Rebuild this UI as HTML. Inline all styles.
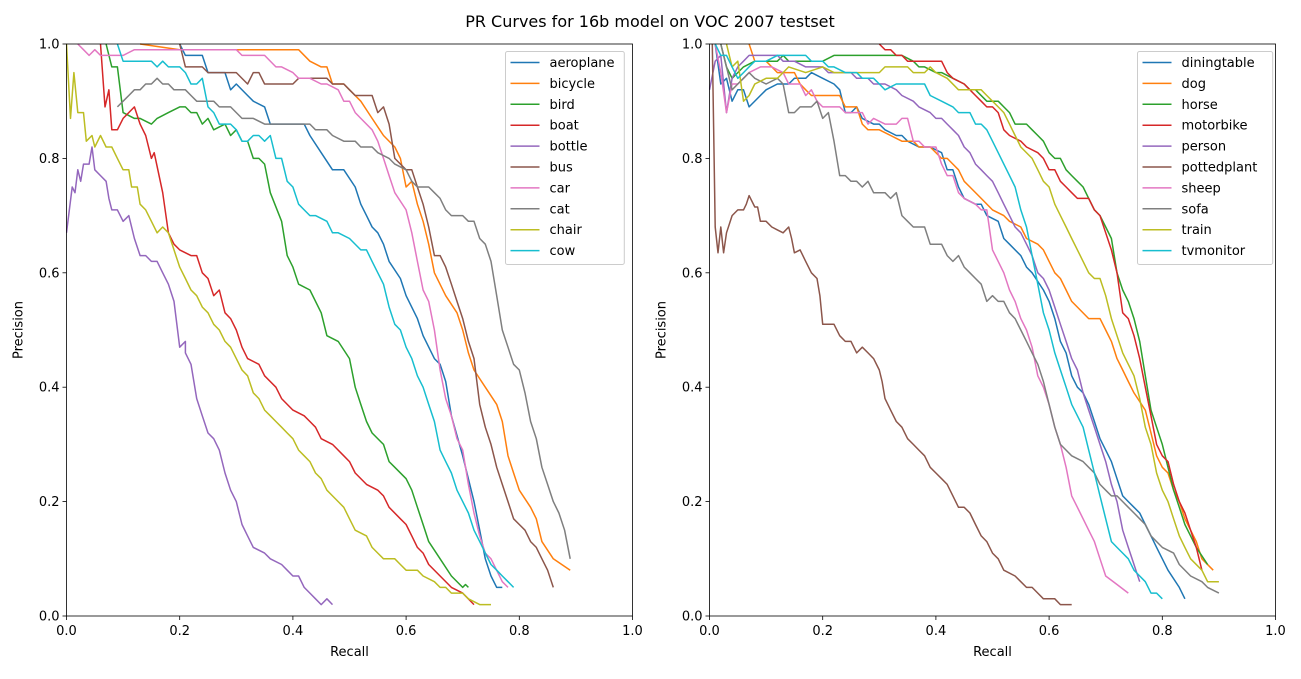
<!DOCTYPE html>
<html><head><meta charset="utf-8"><style>
body{margin:0;background:#fff;}
svg text{font-family:"DejaVu Sans","Liberation Sans",sans-serif;fill:#000;}
</style></head><body>
<svg id="fig" width="1301" height="674" xmlns="http://www.w3.org/2000/svg">
<rect width="1301" height="674" fill="#fff"/>
<text x="650" y="27" font-size="16" text-anchor="middle">PR Curves for 16b model on VOC 2007 testset</text>
<defs>
<clipPath id="clipL"><rect x="66" y="43" width="567" height="574"/></clipPath>
<clipPath id="clipR"><rect x="709" y="43" width="567" height="574"/></clipPath>
</defs>
</svg>
<script>
const colors = ["#1f77b4","#ff7f0e","#2ca02c","#d62728","#9467bd","#8c564b","#e377c2","#7f7f7f","#bcbd22","#17becf"];
const leftNames = ["aeroplane","bicycle","bird","boat","bottle","bus","car","cat","chair","cow"];
const rightNames = ["diningtable","dog","horse","motorbike","person","pottedplant","sheep","sofa","train","tvmonitor"];
const tickLabels = ["0.0","0.2","0.4","0.6","0.8","1.0"];
const tickValues = [0,0.2,0.4,0.6,0.8,1.0];

const aeroplane = [[0.2,1.0],[0.21,0.98],[0.24,0.98],[0.25,0.95],[0.28,0.95],[0.29,0.92],[0.3,0.93],[0.32,0.91],[0.33,0.9],[0.35,0.89],[0.36,0.86],[0.42,0.86],[0.43,0.84],[0.45,0.81],[0.47,0.78],[0.49,0.78],[0.51,0.75],[0.52,0.72],[0.53,0.7],[0.54,0.68],[0.55,0.67],[0.56,0.65],[0.57,0.62],[0.59,0.59],[0.6,0.56],[0.62,0.52],[0.63,0.49],[0.65,0.45],[0.66,0.44],[0.67,0.41],[0.68,0.35],[0.7,0.28],[0.72,0.2],[0.73,0.15],[0.74,0.1],[0.75,0.07],[0.76,0.05],[0.77,0.05]];
const bicycle = [[0.13,1.0],[0.2,0.99],[0.3,0.99],[0.41,0.99],[0.43,0.97],[0.45,0.96],[0.46,0.96],[0.47,0.93],[0.49,0.93],[0.5,0.92],[0.52,0.9],[0.54,0.87],[0.56,0.84],[0.58,0.82],[0.59,0.8],[0.6,0.75],[0.61,0.76],[0.62,0.72],[0.63,0.69],[0.64,0.65],[0.65,0.6],[0.67,0.56],[0.69,0.53],[0.7,0.5],[0.71,0.46],[0.72,0.43],[0.74,0.4],[0.76,0.37],[0.77,0.34],[0.78,0.28],[0.79,0.25],[0.8,0.22],[0.82,0.19],[0.83,0.17],[0.84,0.13],[0.86,0.1],[0.89,0.08]];
const bird = [[0.07,1.0],[0.08,0.96],[0.09,0.96],[0.1,0.88],[0.12,0.87],[0.13,0.87],[0.15,0.86],[0.16,0.87],[0.18,0.88],[0.2,0.89],[0.21,0.89],[0.22,0.88],[0.23,0.88],[0.24,0.86],[0.25,0.87],[0.26,0.85],[0.28,0.86],[0.29,0.84],[0.3,0.85],[0.31,0.83],[0.32,0.83],[0.33,0.8],[0.34,0.8],[0.35,0.79],[0.36,0.74],[0.38,0.69],[0.39,0.63],[0.4,0.61],[0.41,0.58],[0.43,0.57],[0.45,0.53],[0.46,0.49],[0.48,0.48],[0.5,0.45],[0.51,0.4],[0.52,0.37],[0.53,0.34],[0.54,0.32],[0.56,0.3],[0.57,0.27],[0.58,0.26],[0.6,0.24],[0.61,0.22],[0.62,0.19],[0.63,0.16],[0.64,0.13],[0.66,0.1],[0.68,0.07],[0.7,0.05],[0.705,0.055],[0.71,0.05]];
const boat = [[0.06,1.0],[0.068,0.89],[0.075,0.92],[0.08,0.85],[0.09,0.85],[0.1,0.87],[0.12,0.89],[0.13,0.86],[0.14,0.84],[0.15,0.8],[0.155,0.81],[0.17,0.74],[0.18,0.67],[0.19,0.65],[0.2,0.64],[0.22,0.63],[0.23,0.63],[0.24,0.6],[0.25,0.59],[0.26,0.56],[0.27,0.57],[0.28,0.53],[0.29,0.52],[0.3,0.5],[0.31,0.47],[0.32,0.45],[0.34,0.44],[0.35,0.42],[0.37,0.4],[0.38,0.38],[0.4,0.36],[0.42,0.35],[0.43,0.34],[0.44,0.33],[0.45,0.31],[0.47,0.3],[0.49,0.28],[0.5,0.27],[0.51,0.25],[0.53,0.23],[0.55,0.22],[0.56,0.21],[0.57,0.19],[0.59,0.17],[0.6,0.16],[0.61,0.14],[0.62,0.12],[0.63,0.11],[0.64,0.09],[0.66,0.07],[0.68,0.05],[0.7,0.04],[0.72,0.02]];
const bottle = [[0.0,0.67],[0.01,0.75],[0.015,0.74],[0.02,0.78],[0.025,0.76],[0.03,0.79],[0.04,0.79],[0.045,0.82],[0.05,0.78],[0.06,0.77],[0.07,0.76],[0.075,0.73],[0.08,0.71],[0.09,0.71],[0.1,0.69],[0.11,0.7],[0.12,0.66],[0.13,0.63],[0.14,0.63],[0.15,0.62],[0.16,0.62],[0.17,0.6],[0.18,0.58],[0.19,0.55],[0.2,0.47],[0.21,0.48],[0.21,0.46],[0.22,0.44],[0.23,0.38],[0.24,0.35],[0.25,0.32],[0.26,0.31],[0.27,0.29],[0.28,0.25],[0.29,0.22],[0.3,0.2],[0.31,0.16],[0.32,0.14],[0.33,0.12],[0.35,0.11],[0.36,0.1],[0.38,0.09],[0.39,0.08],[0.4,0.07],[0.41,0.07],[0.42,0.05],[0.43,0.04],[0.44,0.03],[0.45,0.02],[0.46,0.03],[0.47,0.02]];
const bus = [[0.2,1.0],[0.21,0.96],[0.24,0.96],[0.25,0.95],[0.3,0.95],[0.32,0.93],[0.33,0.95],[0.34,0.95],[0.35,0.93],[0.4,0.93],[0.41,0.94],[0.46,0.94],[0.47,0.93],[0.49,0.93],[0.5,0.92],[0.51,0.91],[0.54,0.91],[0.55,0.88],[0.56,0.89],[0.57,0.86],[0.58,0.8],[0.6,0.78],[0.61,0.78],[0.62,0.75],[0.63,0.72],[0.64,0.68],[0.65,0.63],[0.66,0.63],[0.67,0.61],[0.68,0.58],[0.69,0.55],[0.7,0.52],[0.71,0.48],[0.72,0.45],[0.73,0.37],[0.74,0.33],[0.75,0.3],[0.76,0.26],[0.77,0.23],[0.78,0.2],[0.79,0.17],[0.8,0.16],[0.81,0.15],[0.82,0.13],[0.83,0.12],[0.84,0.1],[0.85,0.08],[0.86,0.05]];
const car = [[0.02,1.0],[0.03,0.99],[0.04,0.98],[0.05,0.99],[0.06,0.98],[0.1,0.98],[0.12,0.99],[0.2,0.99],[0.3,0.99],[0.31,0.98],[0.35,0.98],[0.37,0.96],[0.38,0.96],[0.4,0.95],[0.41,0.94],[0.43,0.94],[0.45,0.93],[0.46,0.93],[0.48,0.92],[0.49,0.9],[0.5,0.9],[0.51,0.88],[0.52,0.87],[0.54,0.85],[0.55,0.83],[0.56,0.8],[0.57,0.77],[0.58,0.74],[0.6,0.71],[0.61,0.67],[0.62,0.62],[0.63,0.57],[0.64,0.55],[0.65,0.5],[0.66,0.43],[0.67,0.38],[0.68,0.35],[0.69,0.31],[0.7,0.29],[0.71,0.23],[0.72,0.18],[0.73,0.14],[0.74,0.11],[0.75,0.1],[0.77,0.06],[0.78,0.05]];
const cat = [[0.09,0.89],[0.1,0.9],[0.11,0.91],[0.12,0.92],[0.13,0.92],[0.14,0.93],[0.15,0.93],[0.16,0.94],[0.17,0.93],[0.18,0.93],[0.19,0.92],[0.21,0.92],[0.22,0.91],[0.23,0.9],[0.26,0.9],[0.27,0.89],[0.29,0.89],[0.3,0.88],[0.31,0.87],[0.33,0.87],[0.35,0.86],[0.43,0.86],[0.44,0.85],[0.46,0.85],[0.47,0.84],[0.49,0.83],[0.51,0.83],[0.52,0.82],[0.54,0.82],[0.55,0.81],[0.57,0.8],[0.58,0.79],[0.6,0.78],[0.61,0.76],[0.62,0.75],[0.64,0.75],[0.65,0.74],[0.66,0.73],[0.67,0.71],[0.68,0.7],[0.7,0.7],[0.71,0.69],[0.72,0.69],[0.73,0.66],[0.74,0.65],[0.75,0.62],[0.76,0.56],[0.77,0.5],[0.78,0.47],[0.79,0.44],[0.8,0.43],[0.81,0.39],[0.82,0.34],[0.83,0.31],[0.84,0.26],[0.85,0.23],[0.86,0.2],[0.87,0.18],[0.88,0.15],[0.89,0.1]];
const chair = [[0.0,1.0],[0.007,0.87],[0.013,0.95],[0.02,0.88],[0.03,0.88],[0.035,0.83],[0.045,0.84],[0.05,0.82],[0.06,0.84],[0.07,0.82],[0.08,0.82],[0.09,0.8],[0.1,0.78],[0.11,0.78],[0.115,0.75],[0.125,0.75],[0.13,0.72],[0.14,0.71],[0.15,0.69],[0.16,0.67],[0.17,0.68],[0.18,0.67],[0.19,0.64],[0.2,0.61],[0.21,0.59],[0.22,0.57],[0.23,0.56],[0.24,0.54],[0.25,0.53],[0.26,0.51],[0.27,0.5],[0.28,0.48],[0.29,0.47],[0.3,0.45],[0.31,0.43],[0.32,0.42],[0.33,0.39],[0.34,0.38],[0.35,0.36],[0.36,0.35],[0.37,0.34],[0.38,0.33],[0.39,0.32],[0.4,0.31],[0.41,0.29],[0.42,0.28],[0.43,0.27],[0.44,0.25],[0.45,0.24],[0.46,0.22],[0.47,0.21],[0.48,0.2],[0.49,0.19],[0.5,0.17],[0.51,0.15],[0.53,0.14],[0.54,0.12],[0.55,0.11],[0.56,0.1],[0.58,0.1],[0.59,0.09],[0.6,0.08],[0.62,0.08],[0.63,0.07],[0.65,0.06],[0.66,0.05],[0.67,0.05],[0.68,0.04],[0.7,0.04],[0.71,0.03],[0.73,0.02],[0.75,0.02]];
const cow = [[0.09,1.0],[0.1,0.97],[0.15,0.97],[0.16,0.96],[0.17,0.97],[0.18,0.96],[0.2,0.96],[0.21,0.95],[0.22,0.93],[0.23,0.93],[0.24,0.94],[0.25,0.89],[0.26,0.88],[0.27,0.86],[0.29,0.86],[0.3,0.85],[0.31,0.83],[0.32,0.83],[0.33,0.84],[0.34,0.84],[0.35,0.83],[0.36,0.84],[0.37,0.8],[0.38,0.8],[0.39,0.76],[0.4,0.75],[0.41,0.72],[0.42,0.71],[0.43,0.7],[0.44,0.7],[0.46,0.69],[0.47,0.67],[0.48,0.67],[0.5,0.66],[0.52,0.64],[0.53,0.64],[0.54,0.62],[0.55,0.6],[0.56,0.58],[0.57,0.54],[0.58,0.51],[0.59,0.5],[0.6,0.47],[0.61,0.45],[0.62,0.42],[0.63,0.4],[0.64,0.37],[0.65,0.34],[0.66,0.29],[0.67,0.27],[0.68,0.25],[0.69,0.22],[0.7,0.2],[0.71,0.18],[0.72,0.15],[0.73,0.13],[0.74,0.11],[0.75,0.09],[0.76,0.08],[0.77,0.07],[0.78,0.06],[0.79,0.05]];

const diningtable = [[0.01,1.0],[0.02,0.93],[0.03,0.94],[0.04,0.9],[0.05,0.92],[0.06,0.92],[0.07,0.89],[0.09,0.91],[0.1,0.92],[0.12,0.93],[0.14,0.93],[0.15,0.94],[0.17,0.94],[0.18,0.95],[0.2,0.94],[0.22,0.93],[0.23,0.92],[0.24,0.88],[0.25,0.88],[0.26,0.89],[0.27,0.87],[0.29,0.86],[0.3,0.86],[0.31,0.85],[0.33,0.84],[0.34,0.84],[0.35,0.83],[0.37,0.82],[0.39,0.82],[0.41,0.81],[0.42,0.78],[0.43,0.78],[0.44,0.75],[0.45,0.73],[0.47,0.72],[0.48,0.72],[0.49,0.7],[0.51,0.69],[0.52,0.66],[0.53,0.65],[0.55,0.63],[0.56,0.61],[0.57,0.6],[0.59,0.57],[0.6,0.55],[0.61,0.52],[0.62,0.48],[0.63,0.46],[0.64,0.42],[0.65,0.4],[0.66,0.39],[0.67,0.37],[0.68,0.34],[0.69,0.31],[0.7,0.29],[0.71,0.27],[0.72,0.24],[0.73,0.21],[0.74,0.2],[0.75,0.19],[0.76,0.18],[0.77,0.16],[0.78,0.14],[0.79,0.12],[0.8,0.1],[0.81,0.08],[0.83,0.05],[0.84,0.03]];
const dog = [[0.07,1.0],[0.08,0.97],[0.1,0.97],[0.11,0.96],[0.12,0.95],[0.15,0.95],[0.16,0.93],[0.17,0.92],[0.18,0.91],[0.2,0.91],[0.23,0.91],[0.24,0.89],[0.26,0.89],[0.27,0.86],[0.28,0.85],[0.3,0.85],[0.32,0.84],[0.34,0.83],[0.36,0.83],[0.37,0.82],[0.39,0.82],[0.41,0.8],[0.42,0.8],[0.43,0.79],[0.44,0.78],[0.45,0.76],[0.46,0.75],[0.48,0.73],[0.5,0.71],[0.52,0.7],[0.53,0.69],[0.55,0.68],[0.56,0.66],[0.58,0.65],[0.59,0.64],[0.6,0.62],[0.61,0.6],[0.62,0.59],[0.63,0.57],[0.64,0.55],[0.65,0.54],[0.67,0.52],[0.69,0.52],[0.7,0.5],[0.71,0.48],[0.72,0.45],[0.73,0.43],[0.74,0.41],[0.75,0.39],[0.77,0.36],[0.78,0.32],[0.79,0.28],[0.8,0.26],[0.81,0.25],[0.82,0.22],[0.83,0.2],[0.84,0.17],[0.85,0.15],[0.86,0.13],[0.87,0.1],[0.89,0.08]];
const horse = [[0.02,1.0],[0.03,0.96],[0.04,0.94],[0.05,0.95],[0.06,0.96],[0.08,0.97],[0.12,0.97],[0.13,0.98],[0.14,0.97],[0.2,0.97],[0.22,0.98],[0.34,0.98],[0.36,0.97],[0.37,0.96],[0.38,0.96],[0.4,0.95],[0.41,0.95],[0.43,0.94],[0.45,0.93],[0.46,0.92],[0.47,0.92],[0.49,0.9],[0.51,0.9],[0.52,0.89],[0.53,0.88],[0.54,0.86],[0.56,0.86],[0.57,0.85],[0.58,0.84],[0.59,0.83],[0.6,0.81],[0.61,0.8],[0.62,0.8],[0.63,0.78],[0.64,0.77],[0.65,0.76],[0.66,0.75],[0.67,0.73],[0.68,0.71],[0.69,0.7],[0.7,0.68],[0.71,0.66],[0.72,0.6],[0.73,0.57],[0.74,0.55],[0.75,0.52],[0.76,0.48],[0.77,0.42],[0.78,0.36],[0.79,0.33],[0.8,0.3],[0.81,0.26],[0.82,0.22],[0.83,0.19],[0.84,0.16],[0.85,0.14],[0.86,0.12],[0.88,0.09]];
const motorbike = [[0.3,1.0],[0.31,0.99],[0.32,0.99],[0.33,0.98],[0.34,0.98],[0.35,0.97],[0.41,0.97],[0.42,0.95],[0.43,0.94],[0.45,0.93],[0.46,0.92],[0.47,0.91],[0.48,0.9],[0.49,0.89],[0.5,0.89],[0.51,0.88],[0.52,0.85],[0.53,0.84],[0.55,0.83],[0.56,0.82],[0.58,0.81],[0.59,0.8],[0.6,0.78],[0.61,0.78],[0.62,0.76],[0.63,0.75],[0.64,0.74],[0.65,0.73],[0.66,0.73],[0.67,0.73],[0.68,0.71],[0.69,0.7],[0.7,0.67],[0.71,0.64],[0.72,0.6],[0.73,0.53],[0.74,0.52],[0.75,0.49],[0.76,0.45],[0.77,0.4],[0.78,0.35],[0.79,0.3],[0.8,0.28],[0.81,0.27],[0.82,0.23],[0.83,0.2],[0.84,0.18],[0.85,0.15],[0.86,0.12],[0.87,0.08]];
const person = [[0.0,0.92],[0.01,0.97],[0.02,0.98],[0.03,0.88],[0.04,0.94],[0.05,0.96],[0.06,0.97],[0.07,0.98],[0.12,0.98],[0.13,0.97],[0.15,0.97],[0.17,0.96],[0.2,0.96],[0.21,0.95],[0.25,0.95],[0.26,0.94],[0.28,0.94],[0.29,0.93],[0.31,0.93],[0.33,0.92],[0.34,0.91],[0.36,0.9],[0.37,0.89],[0.39,0.88],[0.4,0.87],[0.41,0.87],[0.42,0.86],[0.43,0.85],[0.44,0.84],[0.45,0.82],[0.46,0.81],[0.47,0.79],[0.48,0.78],[0.49,0.77],[0.5,0.76],[0.51,0.74],[0.52,0.72],[0.53,0.7],[0.54,0.68],[0.55,0.67],[0.56,0.65],[0.57,0.63],[0.58,0.6],[0.59,0.59],[0.6,0.57],[0.61,0.54],[0.62,0.51],[0.63,0.48],[0.64,0.45],[0.65,0.43],[0.66,0.39],[0.67,0.36],[0.68,0.33],[0.69,0.3],[0.7,0.27],[0.71,0.23],[0.72,0.2],[0.73,0.15],[0.74,0.12],[0.75,0.09],[0.76,0.06]];
const pottedplant = [[0.005,1.0],[0.01,0.68],[0.015,0.635],[0.02,0.68],[0.025,0.635],[0.03,0.67],[0.04,0.7],[0.05,0.71],[0.06,0.71],[0.065,0.72],[0.07,0.735],[0.08,0.715],[0.085,0.715],[0.09,0.69],[0.1,0.69],[0.11,0.68],[0.12,0.675],[0.13,0.67],[0.14,0.68],[0.145,0.66],[0.15,0.635],[0.16,0.64],[0.17,0.62],[0.18,0.6],[0.19,0.59],[0.195,0.56],[0.2,0.51],[0.22,0.51],[0.23,0.49],[0.24,0.48],[0.25,0.48],[0.26,0.46],[0.27,0.47],[0.28,0.46],[0.29,0.45],[0.3,0.43],[0.305,0.41],[0.31,0.38],[0.32,0.36],[0.33,0.34],[0.34,0.33],[0.35,0.31],[0.36,0.3],[0.37,0.29],[0.38,0.28],[0.39,0.26],[0.4,0.25],[0.41,0.24],[0.42,0.23],[0.43,0.21],[0.44,0.19],[0.45,0.19],[0.46,0.18],[0.47,0.16],[0.48,0.14],[0.49,0.13],[0.5,0.11],[0.51,0.1],[0.52,0.08],[0.54,0.07],[0.55,0.06],[0.56,0.05],[0.57,0.05],[0.58,0.04],[0.59,0.03],[0.6,0.03],[0.61,0.03],[0.62,0.02],[0.64,0.02]];
const sheep = [[0.01,1.0],[0.02,0.95],[0.03,0.88],[0.04,0.93],[0.05,0.93],[0.06,0.94],[0.07,0.95],[0.09,0.96],[0.11,0.96],[0.13,0.95],[0.14,0.93],[0.16,0.93],[0.17,0.91],[0.18,0.92],[0.19,0.9],[0.2,0.89],[0.22,0.89],[0.23,0.89],[0.24,0.88],[0.26,0.88],[0.27,0.88],[0.28,0.86],[0.29,0.87],[0.31,0.86],[0.32,0.86],[0.33,0.86],[0.34,0.87],[0.35,0.87],[0.36,0.83],[0.37,0.83],[0.38,0.82],[0.4,0.82],[0.41,0.79],[0.42,0.77],[0.43,0.77],[0.44,0.74],[0.45,0.73],[0.47,0.72],[0.48,0.71],[0.49,0.71],[0.5,0.64],[0.51,0.62],[0.52,0.6],[0.53,0.57],[0.54,0.55],[0.55,0.52],[0.56,0.5],[0.57,0.47],[0.58,0.42],[0.59,0.4],[0.6,0.37],[0.61,0.33],[0.62,0.3],[0.63,0.26],[0.64,0.21],[0.65,0.19],[0.66,0.17],[0.67,0.15],[0.68,0.13],[0.69,0.1],[0.7,0.07],[0.72,0.055],[0.74,0.04]];
const sofa = [[0.02,1.0],[0.03,0.96],[0.04,0.92],[0.05,0.93],[0.06,0.94],[0.07,0.95],[0.08,0.94],[0.1,0.93],[0.12,0.94],[0.13,0.93],[0.14,0.88],[0.15,0.88],[0.16,0.89],[0.18,0.89],[0.19,0.9],[0.2,0.87],[0.21,0.88],[0.22,0.83],[0.23,0.77],[0.24,0.77],[0.25,0.76],[0.26,0.76],[0.27,0.75],[0.28,0.76],[0.29,0.74],[0.31,0.74],[0.32,0.73],[0.33,0.74],[0.34,0.7],[0.35,0.69],[0.36,0.68],[0.38,0.68],[0.39,0.65],[0.41,0.65],[0.42,0.63],[0.43,0.62],[0.44,0.63],[0.45,0.61],[0.46,0.6],[0.47,0.59],[0.48,0.58],[0.49,0.55],[0.5,0.56],[0.51,0.55],[0.52,0.55],[0.53,0.53],[0.54,0.52],[0.55,0.5],[0.56,0.48],[0.57,0.46],[0.58,0.44],[0.59,0.41],[0.6,0.37],[0.61,0.33],[0.62,0.3],[0.63,0.29],[0.64,0.28],[0.66,0.27],[0.67,0.26],[0.68,0.25],[0.69,0.23],[0.7,0.22],[0.71,0.21],[0.72,0.21],[0.73,0.2],[0.74,0.19],[0.75,0.18],[0.76,0.17],[0.77,0.16],[0.78,0.14],[0.79,0.13],[0.8,0.12],[0.82,0.11],[0.83,0.09],[0.85,0.07],[0.87,0.06],[0.88,0.05],[0.9,0.04]];
const train = [[0.03,1.0],[0.04,0.96],[0.05,0.97],[0.06,0.9],[0.07,0.91],[0.08,0.93],[0.1,0.94],[0.12,0.94],[0.13,0.95],[0.14,0.96],[0.17,0.95],[0.2,0.96],[0.22,0.95],[0.3,0.95],[0.31,0.96],[0.35,0.96],[0.36,0.95],[0.38,0.95],[0.39,0.96],[0.4,0.95],[0.42,0.94],[0.44,0.92],[0.45,0.92],[0.47,0.92],[0.48,0.92],[0.49,0.91],[0.5,0.9],[0.51,0.89],[0.52,0.88],[0.53,0.86],[0.54,0.84],[0.55,0.82],[0.57,0.8],[0.58,0.78],[0.59,0.76],[0.6,0.75],[0.61,0.72],[0.62,0.7],[0.63,0.68],[0.64,0.66],[0.65,0.64],[0.66,0.62],[0.67,0.6],[0.68,0.59],[0.69,0.59],[0.7,0.56],[0.71,0.52],[0.72,0.49],[0.73,0.46],[0.74,0.44],[0.75,0.42],[0.76,0.38],[0.77,0.33],[0.78,0.3],[0.79,0.25],[0.8,0.22],[0.81,0.2],[0.82,0.17],[0.83,0.14],[0.84,0.12],[0.85,0.1],[0.87,0.08],[0.88,0.06],[0.9,0.06]];
const tvmonitor = [[0.01,1.0],[0.02,0.98],[0.03,0.98],[0.04,0.96],[0.05,0.94],[0.06,0.95],[0.07,0.96],[0.08,0.97],[0.1,0.97],[0.12,0.98],[0.17,0.98],[0.18,0.97],[0.2,0.97],[0.21,0.96],[0.22,0.96],[0.24,0.95],[0.26,0.95],[0.27,0.94],[0.29,0.94],[0.3,0.93],[0.31,0.92],[0.33,0.93],[0.38,0.93],[0.39,0.91],[0.41,0.9],[0.43,0.89],[0.44,0.88],[0.46,0.88],[0.47,0.86],[0.48,0.86],[0.49,0.85],[0.5,0.83],[0.51,0.81],[0.52,0.79],[0.53,0.77],[0.54,0.75],[0.55,0.71],[0.56,0.68],[0.57,0.63],[0.58,0.58],[0.59,0.53],[0.6,0.5],[0.61,0.46],[0.62,0.43],[0.63,0.4],[0.64,0.37],[0.65,0.35],[0.66,0.33],[0.67,0.29],[0.68,0.25],[0.69,0.21],[0.7,0.17],[0.71,0.13],[0.72,0.12],[0.73,0.11],[0.74,0.1],[0.75,0.08],[0.76,0.07],[0.77,0.06],[0.78,0.04],[0.79,0.04],[0.8,0.03]];

const leftSeries = [aeroplane,bicycle,bird,boat,bottle,bus,car,cat,chair,cow];
const rightSeries = [diningtable,dog,horse,motorbike,person,pottedplant,sheep,sofa,train,tvmonitor];

const NS = "http://www.w3.org/2000/svg";
const svg = document.getElementById("fig");
const axTop = 44, axBottom = 616, axW = 566;
function mk(tag, attrs, parent){ const e=document.createElementNS(NS,tag); for(const k in attrs) e.setAttribute(k,attrs[k]); (parent||svg).appendChild(e); return e; }

function drawPanel(x0, names, series, clipId, key, legendX){
  const xs = v => x0 + v*axW;
  const ys = v => axBottom - v*(axBottom-axTop);
  const g = mk("g",{});
  
  
  // ticks
  tickValues.forEach((v,i)=>{
    mk("line",{x1:xs(v),x2:xs(v),y1:axBottom,y2:axBottom+4,stroke:"#000","stroke-width":0.8},g);
    const tx = mk("text",{x:xs(v),y:axBottom+19,"font-size":13,"text-anchor":"middle"},g);
    tx.textContent = tickLabels[i];
    
    
    mk("line",{x1:x0-4,x2:x0,y1:ys(v),y2:ys(v),stroke:"#000","stroke-width":0.8},g);
    const ty = mk("text",{x:x0-7,y:ys(v)+4.5,"font-size":13,"text-anchor":"end"},g);
    ty.textContent = tickLabels[i];
    
    
  });
  const xl = mk("text",{x:x0+axW/2,y:656,"font-size":13,"text-anchor":"middle"},g);
  xl.textContent="Recall";
  
  
  const yl = mk("text",{x:0,y:0,"font-size":13,"text-anchor":"middle",transform:`translate(${x0-44},${(axTop+axBottom)/2}) rotate(-90)`},g);
  yl.textContent="Precision";
  
  
  // curves
  const cg = mk("g",{"clip-path":`url(#${clipId})`},g);
  series.forEach((pts,i)=>{
    const d = pts.map((p,j)=>(j?"L":"M")+xs(p[0]).toFixed(1)+","+ys(p[1]).toFixed(1)).join("");
    const path = mk("path",{d:d,fill:"none",stroke:colors[i],"stroke-width":1.5,"stroke-linejoin":"round"},cg);
    
    
  });
  // frame
  const fr = mk("rect",{x:x0,y:axTop,width:axW,height:axBottom-axTop,fill:"none",stroke:"#000","stroke-width":0.8},g);
  
  
  // legend
  const maxLen = Math.max(...names.map(n=>n.length));
  const lw = 45 + maxLen*8.2;
  const lg = mk("g",{},g);
  
  
  mk("rect",{x:legendX,y:51.5,width:lw,height:213,rx:2,fill:"#fff","fill-opacity":0.8,stroke:"#ccc","stroke-width":1},lg);
  names.forEach((n,i)=>{
    const yy = 62.5 + i*20.9;
    const eg = mk("g",{},lg);
    
    
    mk("line",{x1:legendX+5,x2:legendX+34,y1:yy,y2:yy,stroke:colors[i],"stroke-width":1.5},eg);
    const t = mk("text",{x:legendX+44,y:yy+4.5,"font-size":13},eg);
    t.textContent = n;
  });
}
drawPanel(66.5, leftNames, leftSeries, "clipL", "left", 505.5);
drawPanel(709.5, rightNames, rightSeries, "clipR", "right", 1137.5);
</script>
</body></html>
